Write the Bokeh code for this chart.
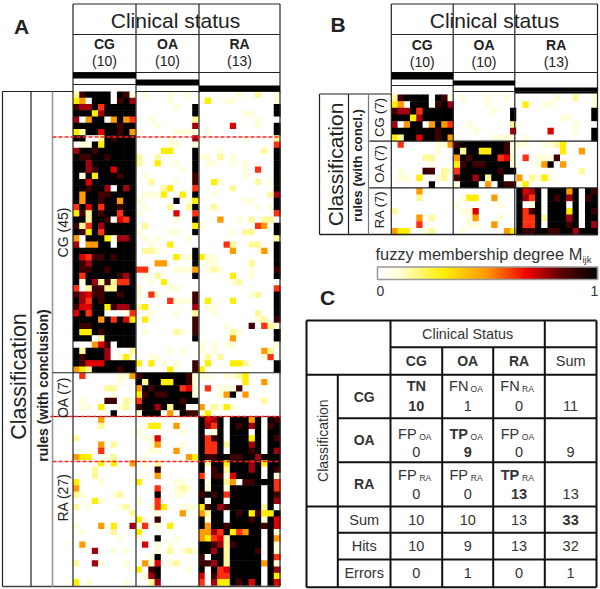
import math
import numpy as np
from bokeh.plotting import figure
from bokeh.models import Range1d
from bokeh.core.properties import value
from bokeh.embed import file_html
from bokeh.resources import INLINE

# membership levels, 0 (white) .. 9 (black): CG(10) OA(10) RA(13) samples, 79 rules
rules_cg = [
"2899990981 0100010010 0000001002001","3409990897 0000010000 0300110000001","8779599999 0000001009 0000000000009",
"9993799999 0000000009 0000000110009","7049904945 0010000002 0000000001000","9999999899 0001000007 0000060001009",
"3299699894 0000001111 0100000000009","9900298999 0000010007 0000000100002","0119399999 0000011001 0000000000005",
"7998999999 0000330009 0001000000209","9889989999 2002000009 1102010000009","9979999999 2003001009 0110010100009",
"9978996999 0000000109 0000000105009","9193999899 0100000008 0000000100009","9969999999 0020001008 0031000002019",
"9989970979 0000230005 0000020000009","9499889999 0111300309 0010000000027","9499899499 1000009013 0000000110009",
"5969599899 0100020029 0020000001019","3829899599 1000006005 0000000000005","9929980659 0000001009 0004001020220",
"8259799999 0200000003 1000000005409","9839599999 1000011009 0000010220009","4099931779 0101000010 0000000000002",
"7044990999 0010030000 0000520022009","9999999999 0221000009 0000040001409","9658898999 0000003119 3110000000009",
"9879999999 0004400009 0110000020009","9889989999 5500001114 0121000010008","9599999879 0102000009 0000030010009",
"9197282559 0010300000 0000012000000","5028822999 1000011000 0000000000005","8768899899 1051000008 0000000012009",
"9759899999 0000051118 0300030000009","8669938779 2300000007 0110000000009","6959900015 0010001002 0010000002009",
"9999495963 0300000008 0000000001208","9889999999 0000000008 0000100080521","9339899999 0100002108 0000021000009",
"9990299999 0000000009 0000040000009","0004680999 0000000000 1010110000001","9299970002 0000010100 1010000000420",
"9899970131 0011000000 0202000000150","9866699999 3030101008 0300033200009","4329999899 0000030008 3000000000009",
]
rules_oa = [
"0500000114 8999999981 1100112300000","0000000100 9299339981 0000000300400","0000022000 4989999561 0501118000000",
"0000001000 3898899991 0001490400000","0100088021 5999999899 0000000000200","0110300120 8997929900 4021310000000",
"0000009000 1999040988 1300000000000",
]
rules_ra = [
"0000400000 0000000000 9679099949098","0000200000 0133004000 9759098979089","0000000000 1000000100 9019099909099",
"2000000000 0116000000 9589099939098","0000402000 0014000100 9559299979099","0000500000 0011004000 9559099989097",
"4330012000 0100000043 9889988997999","0000303004 0102000000 9299399979399","0002000000 0008000000 9089299979098",
"0002000000 0004000000 5088169999091","3000100000 3000001100 9199240889995","4000000000 0005001210 9199199999095",
"2100001200 0009001100 8989599999098","0003100000 1005000000 9099099999097","2010000120 0015300111 3897899999290",
"0000000002 0001000400 4299098938339","0000000000 3108000000 9199099989196","1000403007 1501030000 9499899999896",
"0100002000 3000000000 4475935499091","0000000100 1009001000 4356299999094","0400000000 0601010000 9987289999091",
"0007001010 0001020121 9979299998091","0000000000 0019000000 8099299999095","2007100010 0416012000 8879299999491",
"0000000000 3089000010 9095699999097","0000000000 0179000000 6085599999093","3010000010 0027000000 5073398969096",
]
level_colors = ["#ffffff","#ffffdc","#fff99a","#ffee00","#ff9a00","#ff3010","#dd0000","#a00010","#3c0000","#000000"]
ramp_pos = [0.0, 0.10, 0.30, 0.50, 0.68, 0.84, 1.0]
ramp_rgb = [(255,255,255),(255,255,215),(255,240,0),(255,150,0),(240,0,0),(90,0,0),(0,0,0)]

groups = ["CG", "OA", "RA"]
group_n = [10, 10, 13]
table_rows = ["CG", "OA", "RA"]

p = figure(width=600, height=589, x_range=Range1d(0, 600), y_range=Range1d(589, 0),
           output_backend="svg", toolbar_location=None, min_border=0, margin=0)
p.axis.visible = False
p.grid.visible = False
p.outline_line_color = None
p.background_fill_color = "white"
F = value("Liberation Sans")
INK = "#222222"

def txt(x, y, s, size, bold=False, angle=0.0, color=INK, align="center"):
    p.text(x=[x], y=[y], text=[s], text_font=F, text_font_size=f"{size}px",
           text_font_style="bold" if bold else "normal", text_color=color,
           text_align=align, text_baseline="middle", angle=angle)

def seg(x0, y0, x1, y1, color="#222222", w=1.2, dash="solid"):
    p.segment(x0=[x0], y0=[y0], x1=[x1], y1=[y1], line_color=color, line_width=w, line_dash=dash)

def heat(rows, x0, y0, xstep, ystep):
    L, R, T, B, C = [], [], [], [], []
    for r, row in enumerate(rows):
        for c, ch in enumerate(row.replace(" ", "")):
            L.append(x0 + c * xstep); R.append(x0 + (c + 1) * xstep + 0.6)
            T.append(y0 + r * ystep); B.append(y0 + (r + 1) * ystep + 0.6)
            C.append(level_colors[int(ch)])
    p.quad(left=L, right=R, top=T, bottom=B, fill_color=C, line_color=None)

def header(xs, y_top, title_x, bars, lab_y):
    seg(xs[0], y_top, xs[-1], y_top)
    seg(xs[0], 34, xs[-1], 34)
    for x in xs:
        seg(x, y_top, x, 72 + 20)
    seg(xs[0], 72, xs[-1], 72)
    txt(title_x, 20, "Clinical status", 21)
    for i, g in enumerate(groups):
        cx = (xs[i] + xs[i + 1]) / 2
        txt(cx, lab_y[0], g, 14, bold=True)
        txt(cx, lab_y[1], f"({group_n[i]})", 14)
        t, b = bars[i]
        p.quad(left=[xs[i]], right=[xs[i + 1]], top=[t], bottom=[b], fill_color="black", line_color=None)
        seg(xs[i], b + 6 if i < 2 else 91, xs[i + 1], b + 6 if i < 2 else 91)

# ---------- panel A
ax = [72.5, 135.5, 198.5, 279.5]
ay0, astep = 91.0, 6.25
all_rows = rules_cg + rules_oa + rules_ra
heat(all_rows, ax[0], ay0, (ax[-1] - ax[0]) / 33, astep)
header(ax, 3.5, 175, [(72, 78), (79, 85), (85, 91)], (43, 60))
for x in ax:
    seg(x, 91, x, 586, w=1.2)
seg(2, 91, 72.5, 91)
seg(2, 586, 279.5, 586, w=1.6, color="#444444")
seg(2, 91, 2, 586)
seg(30.5, 91, 30.5, 586)
seg(52, 91, 52, 586, color="#999999", w=1.6)
a_b1 = ay0 + len(rules_cg) * astep
a_b2 = a_b1 + len(rules_oa) * astep
seg(52, a_b1, 279.5, a_b1)
seg(50, a_b2, 279.5, a_b2)
for y, x0 in [(136.5, 52), (a_b2, 50), (461, 52)]:
    seg(x0, y, 280, y, color="#ff2020", w=1.3, dash="4 2")
txt(18, 376, "Classification", 21.5, angle=math.pi / 2)
txt(42, 385, "rules (with conclusion)", 14, bold=True, angle=math.pi / 2)
txt(62, 232, f"CG ({len(rules_cg)})", 14, angle=math.pi / 2)
txt(62, 397, f"OA ({len(rules_oa)})", 14, angle=math.pi / 2)
txt(62, 497, f"RA ({len(rules_ra)})", 14, angle=math.pi / 2)
txt(21, 26, "A", 21, bold=True)

# ---------- panel B: the first seven rules of each conclusion
bx = [390.8, 452.7, 514.3, 597]
by0, bstep = 94.0, 6.67
b_rows = rules_cg[:7] + rules_oa + rules_ra[:7]
heat(b_rows, bx[0], by0, (bx[-1] - bx[0]) / 33, bstep)
header(bx, 3.5, 494, [(72, 79), (80, 85), (87, 93)], (44, 61))
for x in bx:
    seg(x, 92, x, 234)
for k in (7, 14):
    seg(bx[0] - 22, by0 + k * bstep, bx[-1], by0 + k * bstep)
seg(319, 93.5, 391, 93.5)
seg(319, 234, 597, 234, w=1.6)
seg(319, 93.5, 319, 234)
seg(348, 93.5, 348, 234)
seg(368, 93.5, 368, 234, color="#777777")
txt(335, 164, "Classification", 21, angle=math.pi / 2)
txt(357, 165, "rules (with concl.)", 13.3, bold=True, angle=math.pi / 2)
for k, g in enumerate(groups):
    txt(378.5, 117 + k * 46, f"{g} (7)", 13, angle=math.pi / 2)
txt(337.5, 24, "B", 21, bold=True)

# colour bar
cb_x0, cb_x1, cb_y0, cb_y1 = 377.0, 597.0, 266.5, 279.0
n = 110
edges = np.linspace(cb_x0, cb_x1, n + 1)
tt = (np.arange(n) + 0.5) / n
cols = []
for t in tt:
    rgb = [int(np.interp(t, ramp_pos, [c[i] for c in ramp_rgb])) for i in range(3)]
    cols.append("#%02x%02x%02x" % tuple(rgb))
p.quad(left=edges[:-1], right=edges[1:] + 0.6, top=cb_y0, bottom=cb_y1, fill_color=cols, line_color=None)
p.quad(left=[cb_x0], right=[cb_x1], top=[cb_y0], bottom=[cb_y1], fill_color=None, line_color="#999999", line_width=1.5)
txt(375, 253, "fuzzy membership degree M", 16.4, align="left", color="#333333")
txt(582, 259, "ijk", 9.5, color="#333333", align="left")
txt(380, 290, "0", 14, color="#333333")
txt(594, 290, "1", 14, color="#333333")
txt(327, 297, "C", 21, bold=True)

# ---------- panel C
cx = [306, 337.3, 390, 441.7, 492.7, 544.3, 596]
cy = [320, 346.7, 374.3, 417.7, 461.7, 506, 532.3, 559, 586.7]
K = "#111111"
T = 2.0
for y in (cy[0], cy[2], cy[5], cy[8]):
    seg(cx[0], y, cx[6], y, K, T)
seg(cx[2], cy[1], cx[6], cy[1], K, T)
for y in (cy[3], cy[4], cy[6], cy[7]):
    seg(cx[1], y, cx[6], y, K, T)
for x in (cx[0], cx[2], cx[5], cx[6]):
    seg(x, cy[0], x, cy[8], K, T)
seg(cx[1], cy[2], cx[1], cy[8], K, T)
for x in (cx[3], cx[4]):
    seg(x, cy[1], x, cy[8], K, T)

mid = lambda a: [(a[i] + a[i + 1]) / 2 for i in range(len(a) - 1)]
mx, my = mid(cx), mid(cy)
TS = 14.5
GREY = "#333333"
txt((cx[2] + cx[5]) / 2, my[0], "Clinical Status", 14.4, color=GREY)
for i, g in enumerate(groups):
    txt(mx[2 + i], my[1], g, 14, bold=True, color=GREY)
txt(mx[5], my[1], "Sum", TS, color=GREY)
txt(322, (cy[2] + cy[5]) / 2 + 0, "Classification", 14, angle=math.pi / 2, color=GREY)
for i, g in enumerate(table_rows):
    txt(mx[1], my[2 + i], g, 14, bold=True, color=GREY)

head_cells = [[("TN", "", True), ("FN", "OA", False), ("FN", "RA", False)],
              [("FP", "OA", False), ("TP", "OA", True), ("FP", "OA", False)],
              [("FP", "RA", False), ("FP", "RA", False), ("TP", "RA", True)]]
counts = [[10, 1, 0, 11], [0, 9, 0, 9], [0, 0, 13, 13]]
head_y = [385, 433, 474]
val_y = [405.5, 451, 493]
for r in range(3):
    for c in range(3):
        a, sub, b = head_cells[r][c]
        x = mx[2 + c]
        if sub:
            txt(x - 9, head_y[r], a, TS, bold=b, color=GREY)
            txt(x + 9, head_y[r] + 3, sub, 8.5, color=GREY)
        else:
            txt(x, head_y[r], a, TS, bold=b, color=GREY)
        txt(x, val_y[r], str(counts[r][c]), TS, bold=b, color=GREY)
    txt(mx[5], val_y[r], str(counts[r][3]), TS, color=GREY)
foot_labels = ["Sum", "Hits", "Errors"]
foot_values = [[10, 10, 13, 33], [10, 9, 13, 32], [0, 1, 0, 1]]
for r in range(3):
    txt(mx[1], my[5 + r], foot_labels[r], TS, color=GREY)
    for c in range(4):
        txt(mx[2 + c], my[5 + r], str(foot_values[r][c]), TS, bold=(r == 0 and c == 3), color=GREY)

open("out.html", "w").write(file_html(p, INLINE))
